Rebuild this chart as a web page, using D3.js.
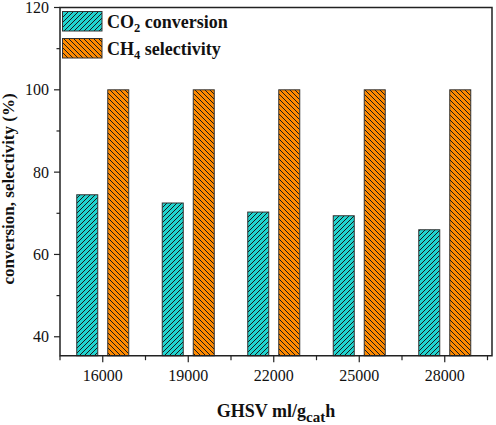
<!DOCTYPE html>
<html><head><meta charset="utf-8">
<script src="https://cdn.jsdelivr.net/npm/d3@7"></script>
<style>body{margin:0;background:#fff}svg{display:block}text{font-family:"Liberation Serif","Times New Roman",serif}</style>
</head><body>
<svg id="c" width="496" height="425"></svg>
<script>
const categories = ["16000","19000","22000","25000","28000"];
const co2Conversion = [74.5, 72.5, 70.3, 69.4, 66.0];
const ch4Selectivity = [100, 100, 100, 100, 100];
const yTicks = [40, 60, 80, 100, 120];
const yMinor = [50, 70, 90, 110];

const svg = d3.select("#c");
const L = 60, R = 492, T = 7.5, B = 355.7;
const x = d3.scaleBand().domain(categories).range([L, 487.5]).paddingInner(0).paddingOuter(0);
const x1 = d3.scaleBand().domain(["co2","ch4"]).range([16.75, 68.75]).paddingInner(0.3226).paddingOuter(0);
const y = d3.scaleLinear().domain([35.4, 120]).range([B, T]);

const defs = svg.append("defs");
function hatch(id, color, dir){
  const p = defs.append("pattern").attr("id", id).attr("patternUnits","userSpaceOnUse")
    .attr("width", 5).attr("height", 5);
  p.append("rect").attr("width",5).attr("height",5).attr("fill",color);
  if(dir>0){
    p.append("path").attr("d","M-1,1 L1,-1 M0,5 L5,0 M4,6 L6,4").attr("stroke","#1a1a1a").attr("stroke-width",1);
  } else {
    p.append("path").attr("d","M-1,4 L1,6 M0,0 L5,5 M4,-1 L6,1").attr("stroke","#1a1a1a").attr("stroke-width",1);
  }
}
const CYAN = "#20D4CF", ORANGE = "#FF8A00";
hatch("hc", CYAN, 1);
hatch("ho", ORANGE, -1);

const data = categories.map((c,i)=>({c, co2: co2Conversion[i], ch4: ch4Selectivity[i]}));
const g = svg.append("g");
g.selectAll("rect.co2").data(data).join("rect").attr("class","co2")
  .attr("x", d=>x(d.c)+x1("co2")).attr("width", x1.bandwidth())
  .attr("y", d=>y(d.co2)).attr("height", d=>B-y(d.co2))
  .attr("fill","url(#hc)").attr("stroke","#333").attr("stroke-width",1);
g.selectAll("rect.ch4").data(data).join("rect").attr("class","ch4")
  .attr("x", d=>x(d.c)+x1("ch4")).attr("width", x1.bandwidth())
  .attr("y", d=>y(d.ch4)).attr("height", d=>B-y(d.ch4))
  .attr("fill","url(#ho)").attr("stroke","#333").attr("stroke-width",1);

// frame
svg.append("path").attr("d",`M${L},${B} L${L},${T} L${R},${T} L${R},${B} Z`)
  .attr("fill","none").attr("stroke","#222").attr("stroke-width",1.5);

// y axis ticks
const yax = svg.append("g");
yax.selectAll("line.maj").data(yTicks).join("line").attr("x1",L-6).attr("x2",L)
  .attr("y1",d=>y(d)).attr("y2",d=>y(d)).attr("stroke","#222").attr("stroke-width",1.2);
yax.selectAll("line.min").data(yMinor).join("line").attr("x1",L-3.5).attr("x2",L)
  .attr("y1",d=>y(d)).attr("y2",d=>y(d)).attr("stroke","#222").attr("stroke-width",1.2);
yax.selectAll("text").data(yTicks).join("text").attr("x",49).attr("y",d=>y(d)+5.5)
  .attr("text-anchor","end").attr("font-size",16).attr("fill","#111").text(d=>d);

// x axis ticks
const xax = svg.append("g");
xax.selectAll("line.maj").data(categories).join("line")
  .attr("x1",d=>x(d)+x.bandwidth()/2).attr("x2",d=>x(d)+x.bandwidth()/2)
  .attr("y1",B).attr("y2",B+6.5).attr("stroke","#222").attr("stroke-width",1.2);
const bounds = categories.map(c=>x(c)).concat([x.range()[1]]);
xax.selectAll("line.min").data(bounds).join("line")
  .attr("x1",d=>d).attr("x2",d=>d).attr("y1",B).attr("y2",B+4.5).attr("stroke","#222").attr("stroke-width",1.2);
xax.selectAll("text").data(categories).join("text")
  .attr("x",d=>x(d)+x.bandwidth()/2).attr("y",380.5).attr("text-anchor","middle")
  .attr("font-size",16).attr("fill","#111").text(d=>d);

// axis titles
const xt = svg.append("text").attr("x",(L+R)/2).attr("y",417).attr("text-anchor","middle")
  .attr("font-size",18).attr("font-weight","bold").attr("fill","#111");
xt.append("tspan").text("GHSV ml/g");
xt.append("tspan").attr("font-size",15).attr("dy",5).text("cat");
xt.append("tspan").attr("dy",-5).text("h");

svg.append("text").attr("transform","translate(13.5,189) rotate(-90)").attr("text-anchor","middle")
  .attr("font-size",17).attr("font-weight","bold").attr("fill","#111").text("conversion, selectivity (%)");

// legend
const legend = [{label:"CO", sub:"2", rest:" conversion", fill:"url(#hc)", y:11.5},
                {label:"CH", sub:"4", rest:" selectivity", fill:"url(#ho)", y:38.5}];
const lg = svg.append("g");
legend.forEach(l=>{
  lg.append("rect").attr("x",62.5).attr("y",l.y).attr("width",39.5).attr("height",19.5)
    .attr("fill",l.fill).attr("stroke","#333").attr("stroke-width",1);
  const t = lg.append("text").attr("x",107).attr("y",l.y+16).attr("font-size",18)
    .attr("font-weight","bold").attr("fill","#111");
  t.append("tspan").text(l.label);
  t.append("tspan").attr("font-size",12.5).attr("dy",4).text(l.sub);
  t.append("tspan").attr("dy",-4).text(l.rest);
});
</script>
</body></html>
